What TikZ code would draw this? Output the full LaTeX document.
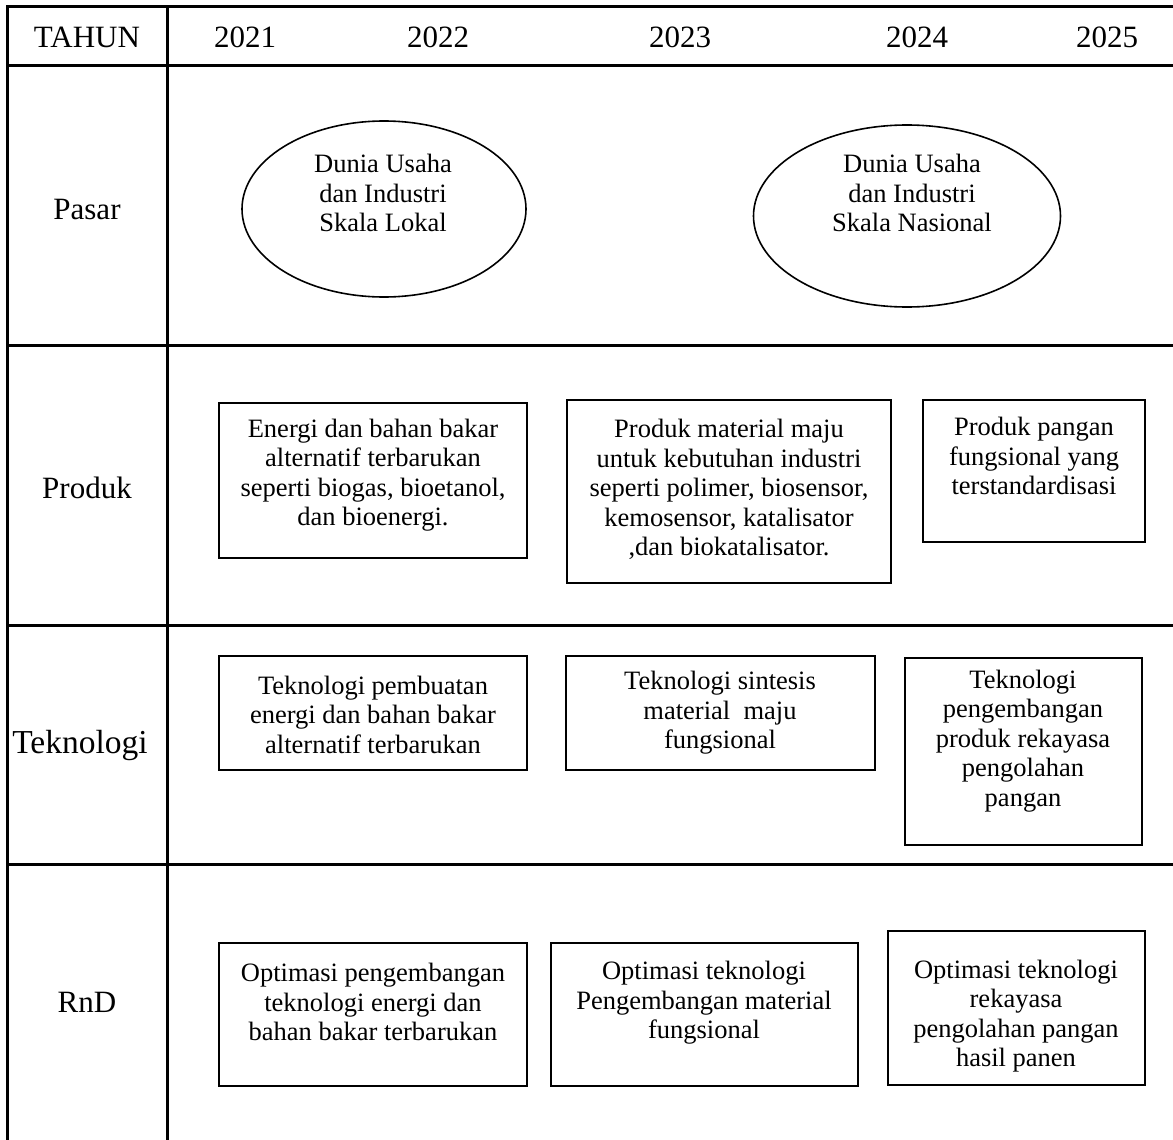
\documentclass[tikz,border=0pt]{standalone}
\usepackage{fontspec}
\setmainfont{Liberation Serif}
\usetikzlibrary{shapes.geometric}
\begin{document}
\begin{tikzpicture}[x=1pt,y=-1pt,
  gridline/.style={line width=3pt,line cap=rect},
  itembox/.style={draw,line width=1.6pt,rectangle,inner sep=0pt},
  itemoval/.style={draw,line width=1.6pt,ellipse,inner sep=0pt},
  itemtext/.style={align=center,inner sep=0pt,font=\fontsize{26.5}{29.5}\selectfont},
  headtext/.style={inner sep=0pt,font=\fontsize{31}{36}\selectfont}]
\useasboundingbox (0,0) rectangle (1173,1140);

% table grid
\draw[gridline] (7,7) -- (1173,7);
\draw[gridline] (7,66) -- (1173,66);
\draw[gridline] (7,345) -- (1173,345);
\draw[gridline] (7,625) -- (1173,625);
\draw[gridline] (7,864) -- (1173,864);
\draw[gridline] (7,7) -- (7,1141);
\draw[gridline] (167,7) -- (167,1141);

% header row
\node[headtext] (tahun) at (87,37) {TAHUN};
\node[headtext] (y2021) at (245,37) {2021};
\node[headtext] (y2022) at (438,37) {2022};
\node[headtext] (y2023) at (680,37) {2023};
\node[headtext] (y2024) at (917,37) {2024};
\node[headtext] (y2025) at (1107,37) {2025};

% row labels
\node[headtext] (lpasar) at (87,210) {Pasar};
\node[headtext] (lproduk) at (87,488) {Produk};
\node[headtext,font=\fontsize{33.5}{38}\selectfont] (ltek) at (80,745) {Teknologi};
\node[headtext] (lrnd) at (87,1002) {RnD};

% Pasar
\node[itemoval,minimum width=284,minimum height=176] (pasar1) at (384,209) {};
\node[itemtext] (pasar1t) at (383,193) {Dunia Usaha\\dan Industri\\Skala Lokal};
\node[itemoval,minimum width=307,minimum height=182] (pasar2) at (907,216) {};
\node[itemtext] (pasar2t) at (912,193) {Dunia Usaha\\dan Industri\\Skala Nasional};

% Produk
\node[itembox,minimum width=308,minimum height=155] (prod1) at (373,480.5) {};
\node[itemtext] (prod1t) at (373,475) {Energi dan bahan bakar\\alternatif terbarukan\\seperti biogas, bioetanol,\\dan bioenergi.};
\node[itembox,minimum width=324,minimum height=183] (prod2) at (729,491.5) {};
\node[itemtext] (prod2t) at (729,489.5) {Produk material maju\\untuk kebutuhan industri\\seperti polimer, biosensor,\\kemosensor, katalisator\\,dan biokatalisator.};
\node[itembox,minimum width=222,minimum height=142] (prod3) at (1034,471) {};
\node[itemtext] (prod3t) at (1034,456) {Produk pangan\\fungsional yang\\terstandardisasi};

% Teknologi
\node[itembox,minimum width=308,minimum height=114] (tek1) at (373,713) {};
\node[itemtext] (tek1t) at (373,714.5) {Teknologi pembuatan\\energi dan bahan bakar\\alternatif terbarukan};
\node[itembox,minimum width=309,minimum height=114] (tek2) at (720.5,713) {};
\node[itemtext] (tek2t) at (720,713) {Teknologi sintesis\\material\ \ maju\\fungsional};
\node[itembox,minimum width=237,minimum height=187] (tek3) at (1023.5,751.5) {};
\node[itemtext] (tek3t) at (1023,741) {Teknologi\\pengembangan\\produk rekayasa\\pengolahan\\pangan};

% RnD
\node[itembox,minimum width=308,minimum height=143] (rnd1) at (373,1014.5) {};
\node[itemtext] (rnd1t) at (373,1002) {Optimasi pengembangan\\teknologi energi dan\\bahan bakar terbarukan};
\node[itembox,minimum width=307,minimum height=143] (rnd2) at (704.5,1014.5) {};
\node[itemtext] (rnd2t) at (704,1003) {Optimasi teknologi\\Pengembangan material\\fungsional};
\node[itembox,minimum width=257,minimum height=154] (rnd3) at (1016.5,1008) {};
\node[itemtext] (rnd3t) at (1016,1016) {Optimasi teknologi\\rekayasa\\pengolahan pangan\\hasil panen};
\end{tikzpicture}
\end{document}
